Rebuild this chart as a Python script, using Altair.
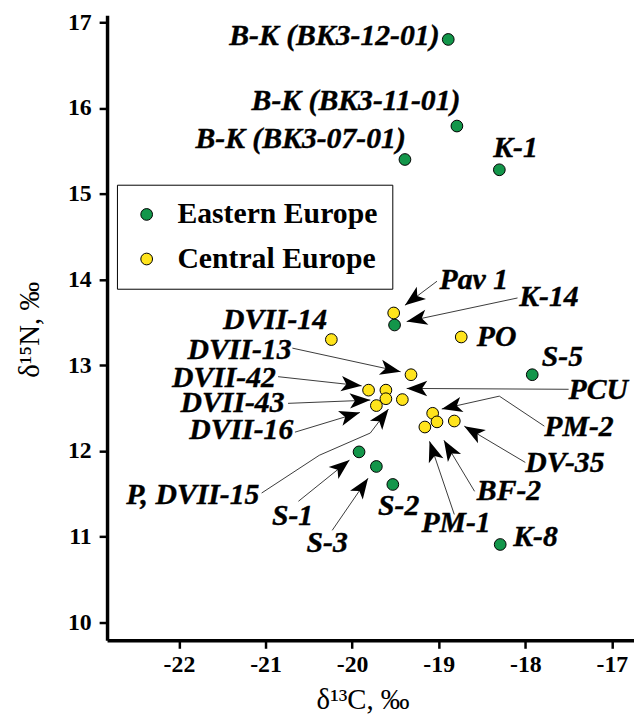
import altair as alt
import pandas as pd
import numpy as np

# ---------------- data ----------------
east_x = [-18.89, -18.79, -19.39, -18.30, -19.51, -17.92, -19.92, -19.72, -19.53, -18.29]
east_y = [16.80, 15.79, 15.40, 15.28, 13.47, 12.89, 11.99, 11.82, 11.61, 10.91]

central_x = [-19.52, -20.24, -18.74, -19.32, -19.81, -19.61, -19.61, -19.72, -19.42,
             -19.07, -19.02, -19.16, -18.82]
central_y = [13.61, 13.30, 13.33, 12.89, 12.71, 12.71, 12.61, 12.53, 12.60,
             12.44, 12.34, 12.28, 12.35]

groups = ["Eastern Europe"] * len(east_x) + ["Central Europe"] * len(central_x)

# labels: right-aligned
lab_r_text = ["B-K (BK3-12-01)", "B-K (BK3-11-01)", "B-K (BK3-07-01)", "DVII-14",
              "DVII-13", "DVII-42", "DVII-43", "DVII-16", "P, DVII-15", "S-1", "S-3"]
lab_r_x = [-18.99, -18.75, -19.38, -20.29, -20.70, -20.88, -20.78, -20.68, -21.07, -20.45, -20.05]
lab_r_y = [16.835, 16.08, 15.64, 13.53, 13.18, 12.856, 12.556, 12.24, 11.49, 11.24, 10.93]

# labels: left-aligned
lab_l_text = ["K-1", "Pav 1", "K-14", "PO", "S-5", "PCU", "PM-2", "DV-35", "BF-2", "PM-1", "S-2", "K-8"]
lab_l_x = [-18.37, -18.99, -18.07, -18.56, -17.81, -17.50, -17.78, -18.00, -18.56, -19.20, -19.70, -18.14]
lab_l_y = [15.53, 13.99, 13.79, 13.33, 13.09, 12.71, 12.28, 11.856, 11.53, 11.16, 11.36, 11.00]

# annotation arrows: vertices in order, last vertex is the arrow tip
arrow_id = [1, 1, 2, 2, 3, 3, 4, 4, 5, 5, 6, 6, 7, 7, 7, 7, 8, 8, 9, 9, 9,
            10, 10, 11, 11, 12, 12, 13, 13, 14, 14]
arrow_x = [-19.02, -19.39, -18.09, -19.37, -20.69, -19.44, -20.855, -19.89,
           -20.74, -19.79, -20.66, -19.91, -21.045, -20.38, -19.79, -19.58,
           -17.50, -19.37, -17.78, -18.30, -18.965, -18.00, -18.705,
           -18.586, -18.94, -18.82, -19.106, -20.62, -20.03, -20.23, -19.816]
arrow_y = [13.98, 13.70, 13.785, 13.51, 13.20, 12.925, 12.867, 12.76,
           12.556, 12.594, 12.22, 12.45, 11.51, 11.95, 12.21, 12.49,
           12.72, 12.73, 12.29, 12.64, 12.49, 11.867, 12.29,
           11.53, 12.125, 11.26, 12.113, 11.414, 11.894, 11.075, 11.683]

# ---------------- layout ----------------
W, H = 532, 631
XDOM = [-22.83, -16.745]
YDOM = [9.792, 17.081]
px_x = W / (XDOM[1] - XDOM[0])
px_y = H / (YDOM[1] - YDOM[0])

points = pd.DataFrame({"x": east_x + central_x, "y": east_y + central_y, "group": groups})
points["ord"] = range(len(points))
lab_r = pd.DataFrame({"x": lab_r_x, "y": lab_r_y, "t": lab_r_text})
lab_l = pd.DataFrame({"x": lab_l_x, "y": lab_l_y, "t": lab_l_text})
arrows = pd.DataFrame({"id": arrow_id, "x": arrow_x, "y": arrow_y})
arrows["seq"] = arrows.groupby("id").cumcount()

heads = []
for aid, g in arrows.groupby("id"):
    g = g.sort_values("seq")
    tip = g.iloc[-1]
    prev = g.iloc[-2]
    dx = (tip.x - prev.x) * px_x
    dy = (tip.y - prev.y) * px_y
    ang = np.degrees(np.arctan2(dx, dy)) % 360
    heads.append({"x": tip.x, "y": tip.y, "angle": float(ang)})
heads = pd.DataFrame(heads)

SERIF = "Liberation Serif"

xscale = alt.Scale(domain=XDOM, nice=False, zero=False)
yscale = alt.Scale(domain=YDOM, nice=False, zero=False)

xaxis = alt.Axis(values=[-22, -21, -20, -19, -18, -17], labelExpr="toString(datum.value)",
                 title="δ¹³C, ‰", titleX=258, titleY=60, titleBaseline="middle",
                 titleAlign="center", labelPadding=4,
                 labelFontWeight="bold", labelFontSize=24)
yaxis = alt.Axis(values=[10, 11, 12, 13, 14, 15, 16, 17], labelExpr="toString(datum.value)",
                 title="δ¹⁵N, ‰", titleX=-78, titleY=317, titleBaseline="middle",
                 titleAlign="center", labelPadding=8,
                 labelFontWeight="bold", labelFontSize=24)

base_x = alt.X("x:Q", scale=xscale, axis=xaxis)
base_y = alt.Y("y:Q", scale=yscale, axis=yaxis)

lines = alt.Chart(arrows).mark_line(color="#3a3a3a", strokeWidth=1).encode(
    x=base_x, y=base_y, detail="id:N", order="seq:Q")

head_path = "M0,0L-0.75,2.0L0,1.5L0.75,2.0Z"
arrowheads = alt.Chart(heads).mark_point(shape=head_path, filled=True, fill="black",
                                         size=430, opacity=1, strokeWidth=0).encode(
    x="x:Q", y="y:Q", angle=alt.Angle("angle:Q", scale=None))

pts = alt.Chart(points).mark_point(filled=True, size=140, stroke="black", strokeWidth=1,
                                   opacity=1).encode(
    x="x:Q", y="y:Q",
    color=alt.Color("group:N",
                    scale=alt.Scale(domain=["Eastern Europe", "Central Europe"],
                                    range=["#13964a", "#ffe41c"]),
                    legend=alt.Legend(orient="none", legendX=10, legendY=171, title=None,
                                      strokeColor="black", fillColor="white", padding=15,
                                      labelFont=SERIF, labelFontSize=30, labelFontWeight="bold",
                                      labelColor="black", labelLimit=400,
                                      symbolType="circle", symbolSize=140,
                                      symbolStrokeColor="black", symbolStrokeWidth=1,
                                      rowPadding=15, labelOffset=16)),
    order=alt.Order("ord:Q"))

text_style = dict(baseline="middle", font=SERIF, fontSize=30, fontWeight="bold",
                  fontStyle="italic", color="black", stroke="black", strokeWidth=0.4)
text_r = alt.Chart(lab_r).mark_text(align="right", **text_style).encode(
    x="x:Q", y="y:Q", text="t:N")
text_l = alt.Chart(lab_l).mark_text(align="left", **text_style).encode(
    x="x:Q", y="y:Q", text="t:N")

chart = alt.layer(lines, arrowheads, pts, text_r, text_l).properties(
    width=W, height=H,
    autosize=alt.AutoSizeParams(type="none"),
    padding={"left": 100, "top": 4, "right": 0, "bottom": 78},
).configure_view(stroke=None).configure_axis(
    grid=False, domainColor="black", domainWidth=3.5, tickColor="black", tickWidth=2.5,
    tickSize=8, labelFont=SERIF, labelFontSize=24, labelFontWeight="bold",
    labelColor="black", titleFont=SERIF, titleFontSize=29, titleFontWeight="normal",
    titleColor="black")

chart.save("out.html", embed_options={"renderer": "svg", "actions": False})
